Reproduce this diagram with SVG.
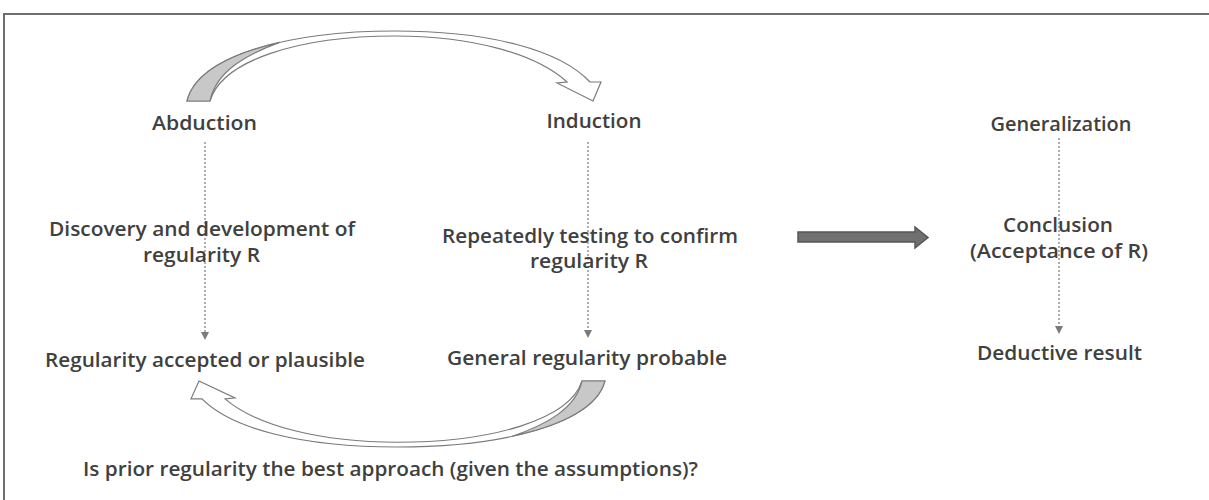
<svg xmlns="http://www.w3.org/2000/svg" xmlns:xlink="http://www.w3.org/1999/xlink" width="1209" height="500" viewBox="0 0 1209 500">
  <style>
    .t { font-family: "Open Sans", "Liberation Sans", sans-serif; font-size: 20px; fill: #404040; text-anchor: middle; font-weight: 600; }
    .q { text-anchor: start; }
    .frame { stroke: #6e6e6e; stroke-width: 2; fill: none; }
    .dot { stroke: #9a9a9a; stroke-width: 1.6; stroke-dasharray: 2 2; fill: none; marker-end: url(#tri); }
    .band { fill: #ffffff; stroke: #7a7a7a; stroke-width: 1.2; stroke-linejoin: miter; }
    .under { fill: #c8c8c8; stroke: #7a7a7a; stroke-width: 1.2; stroke-linejoin: round; }
    .big { fill: #707070; stroke: #555555; stroke-width: 1.5; stroke-linejoin: miter; }
  </style>
  <defs>
    <marker id="tri" viewBox="0 0 10 10" refX="5" refY="5" markerWidth="5" markerHeight="5" orient="auto" markerUnits="strokeWidth">
      <path d="M0,0 L10,5 L0,10 Z" fill="#7a7a7a"/>
    </marker>
    <g id="curvedArrow">
      <path class="band" d="M187,101 C198,55 290,31 395,31 C490,31 560,50 590,82 L601,82 L593,101 L557,83 L567,82 C535,53 470,36 395,36 C300,36 222,60 210,101 Z"/>
      <path class="under" d="M187,101 C193.6,73.4 229.36,53.72 279.6,42.4 C245,55 216,72 210,101 Z"/>
    </g>
  </defs>

  <rect width="1209" height="500" fill="#ffffff"/>
  <g id="frame">
    <path class="frame" d="M4,500 L4,14 L1209,14"/>
  </g>

  <g id="connectors">
    <use xlink:href="#curvedArrow" href="#curvedArrow"/>
    <use xlink:href="#curvedArrow" href="#curvedArrow" transform="matrix(-1 0 0 -0.943 792 476.2)"/>
    <path class="dot" d="M205,142 L205,336"/>
    <path class="dot" d="M588,142 L588,334"/>
    <path class="dot" d="M1059,138 L1059,330"/>
    <path class="big" d="M798,232 L915,232 L915,227 L928,237.5 L915,248 L915,242 L798,242 Z"/>
  </g>

  <g id="abduction">
    <text class="t" x="204.5" y="130" textLength="105" lengthAdjust="spacingAndGlyphs">Abduction</text>
  </g>
  <g id="abduction-discovery">
    <text class="t" x="202" y="236" textLength="306" lengthAdjust="spacingAndGlyphs">Discovery and development of</text>
    <text class="t" x="201.5" y="262" textLength="117" lengthAdjust="spacingAndGlyphs">regularity R</text>
  </g>
  <g id="abduction-result">
    <text class="t" x="205" y="367" textLength="320" lengthAdjust="spacingAndGlyphs">Regularity accepted or plausible</text>
  </g>

  <g id="induction">
    <text class="t" x="594" y="128" textLength="95" lengthAdjust="spacingAndGlyphs">Induction</text>
  </g>
  <g id="induction-testing">
    <text class="t" x="590" y="243" textLength="296" lengthAdjust="spacingAndGlyphs">Repeatedly testing to confirm</text>
    <text class="t" x="589" y="268" textLength="118" lengthAdjust="spacingAndGlyphs">regularity R</text>
  </g>
  <g id="induction-result">
    <text class="t" x="587" y="365" textLength="280" lengthAdjust="spacingAndGlyphs">General regularity probable</text>
  </g>

  <g id="generalization">
    <text class="t" x="1061" y="131" textLength="141" lengthAdjust="spacingAndGlyphs">Generalization</text>
  </g>
  <g id="conclusion">
    <text class="t" x="1058" y="232" textLength="110" lengthAdjust="spacingAndGlyphs">Conclusion</text>
    <text class="t" x="1059" y="258" textLength="178" lengthAdjust="spacingAndGlyphs">(Acceptance of R)</text>
  </g>
  <g id="deductive">
    <text class="t" x="1059.5" y="360" textLength="165" lengthAdjust="spacingAndGlyphs">Deductive result</text>
  </g>

  <g id="question">
    <text class="t q" x="83" y="476" textLength="615" lengthAdjust="spacingAndGlyphs">Is prior regularity the best approach (given the assumptions)?</text>
  </g>
</svg>
